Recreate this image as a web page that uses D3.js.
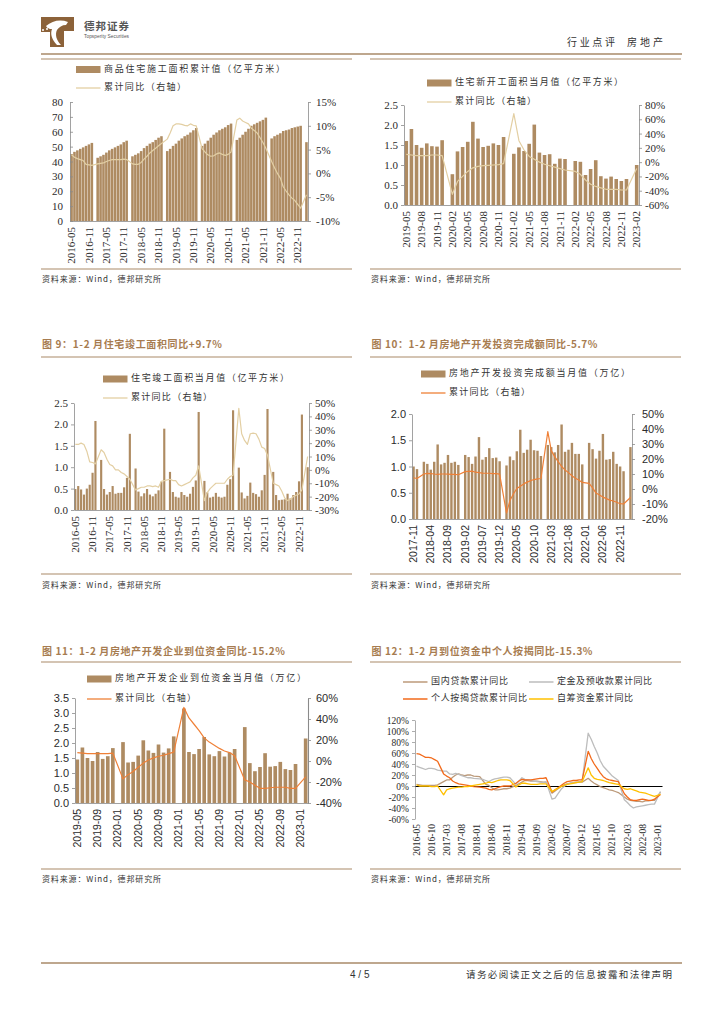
<!DOCTYPE html>
<html lang="zh"><head><meta charset="utf-8">
<script src="https://cdn.jsdelivr.net/npm/d3@7/dist/d3.min.js"></script>
<style>
html,body{margin:0;padding:0;background:#fff}
svg{display:block}
text{font-family:"Noto Sans CJK SC",sans-serif}
</style></head><body>
<svg id="page" width="724" height="1024"></svg>
<script>
// ---------- data ----------
const c1Start=[2016,5], c1Ticks=["2016-05","2016-11","2017-05","2017-11","2018-05","2018-11","2019-05","2019-11","2020-05","2020-11","2021-05","2021-11","2022-05","2022-11"];
const c1Bars=[45,46.5,47.5,48.5,49.5,50.5,51.5,52.5,
null,42.5,43.5,44.5,46,47.5,48.5,49.5,50.5,51.5,53,54,
null,43.5,44.5,45.5,47,49,50.5,52,53,54.5,56,57,
null,47,48.5,50.5,52,54,55.5,57,58,59.5,61,62.5,
null,50.5,52,54,56,58,59.5,61,62,63,64.5,65.5,
null,54.5,56,58,60,62,64,65,66,67,68,69.5,
null,55.5,57,58,59,60.5,61,61.5,62.5,63,63.5,64,
null,53];
const c1Line=[3.9,3.4,3.1,2.9,2.7,1.9,1.8,1.7,
null,2.0,2.1,2.2,2.5,2.7,2.9,2.9,2.9,2.9,3.0,2.9,
null,2.0,1.9,1.9,2.3,3.0,3.6,4.3,4.8,5.3,5.8,6.3,
null,7.2,8.5,10,10.4,10.4,10.3,10.1,10.0,10.4,10.1,10.0,
null,5.2,4.5,3.9,3.6,3.7,4.1,4.3,4.0,3.8,4.0,4.5,
null,11.2,11.6,11.0,10.7,10.4,9.5,9.0,8.5,7.5,6.5,5.3,
null,2.5,1.2,0,-1,-2.8,-3.7,-4.5,-5.2,-5.7,-6.5,-7.3,
null,-4.5];

const c2Start=[2019,5], c2Ticks=["2019-05","2019-08","2019-11","2020-02","2020-05","2020-08","2020-11","2021-02","2021-05","2021-08","2021-11","2022-02","2022-05","2022-08","2022-11","2023-02"];
const c2Bars=[1.6,1.9,1.5,1.43,1.54,1.47,1.46,1.62,
null,.77,1.34,1.45,1.58,2.08,1.66,1.45,1.48,1.54,1.5,1.7,
null,1.28,1.44,1.35,1.53,2.01,1.31,1.25,1.27,1.03,1.16,1.15,
null,1.1,1.08,.75,.9,1.12,.72,.66,.71,.65,.6,.65,
null,1.0];
const c2Line=[11,10,9,9,9,10,10,9,
null,-45,-27,-20,-13,-8,-6,-5,-4.5,-4,-3.5,-2,
null,68,30,17,8,4,0,-3,-5,-7,-9,-11,
null,-13,-17,-25,-31,-34,-36,-38,-38,-38,-39,-39,
null,-9];

const c3Start=[2016,5], c3Ticks=c1Ticks;
const c3Bars=[.49,.56,.48,.36,.5,.59,.87,2.08,
null,1.17,.49,.36,.42,.56,.38,.4,.4,.53,.75,1.78,
null,.97,.43,.32,.39,.49,.36,.32,.38,.46,.66,1.9,
null,.89,.42,.31,.29,.42,.35,.31,.38,.54,.69,2.29,
null,.68,.41,.29,.31,.4,.31,.29,.31,.59,.72,2.33,
null,.99,.41,.27,.33,.64,.4,.37,.31,.46,.82,2.36,
null,.89,.35,.23,.24,.25,.38,.27,.35,.42,.67,2.23,
null,1.0];
const c3Line=[19,19,20,19,14,6,5.5,4.5,
null,15,13,8,4,3,0,0,-2,-3,-5,-7,
null,-15,-14,-13,-13,-12,-12,-12.5,-12,-13,-8.5,-8,
null,-7,-8,-8,-11,-12,-11,-10,-9,-6,-4,3,
null,-23,-17,-14,-12,-10,-10,-10,-10,-7,-5,-4,
null,46,27,22,19,27,27.5,27,23,17,16,11,
null,-10,-11,-12,-16,-21,-23,-22,-20,-19,-18,-15,
null,10];

const c4Start=[2017,11], c4Ticks=["2017-11","2018-04","2018-09","2019-02","2019-07","2019-12","2020-05","2020-10","2021-03","2021-08","2022-01","2022-06","2022-11"];
const c4Bars=[1.0,.95,
null,1.09,1.05,.94,1.09,1.42,1.04,1.07,1.22,1.07,1.09,1.03,
null,1.22,1.18,1.05,1.19,1.56,1.13,1.18,1.35,1.16,1.17,1.1,
null,1.02,1.19,1.12,1.29,1.7,1.26,1.32,1.51,1.31,1.3,1.2,
null,1.41,1.37,1.27,1.41,1.8,1.28,1.32,1.45,1.24,1.24,1.04,
null,1.45,1.33,1.15,1.3,1.62,1.13,1.14,1.28,1.05,1.0,.91,
null,1.37];
const c4Line=[7.5,7,
null,10,10.4,10.3,10,9.8,10,10,9.9,9.7,9.7,9.5,
null,11.6,11.8,11.9,11.2,10.9,10.6,10.5,10.5,10.3,10.2,9.9,
null,-16,-7.7,-3.3,.3,1.9,3.4,4.6,5.6,6.3,6.8,7,
null,38.3,25.6,21.6,18.3,15,12.7,10.9,8.8,7.2,6,4.4,
null,3.7,.7,-2.7,-4,-5.4,-6.4,-7.4,-8,-8.8,-9.8,-10,
null,-5.7];

const c5Start=[2019,5], c5Ticks=["2019-05","2019-09","2020-01","2020-05","2020-09","2021-01","2021-05","2021-09","2022-01","2022-05","2022-09","2023-01"];
const c5Bars=[1.45,1.85,1.5,1.4,1.7,1.47,1.56,1.83,
null,2.03,1.35,1.37,1.58,2.09,1.75,1.67,1.95,1.68,1.82,2.22,
null,3.15,1.7,1.63,1.8,2.2,1.62,1.56,1.73,1.55,1.68,1.8,
null,2.53,1.33,1.06,1.2,1.66,1.21,1.23,1.37,1.13,1.1,1.3,
null,2.15];
const c5Line=[8,7.5,7,7,7,7,7,7.5,
null,-17,-13,-10,-6,-2,1,3,4.5,5.5,7,8.5,
null,51,41,35,29,22,18,15,12,9.5,8,5,
null,-18,-20,-23,-26,-26,-25.5,-25,-25,-25,-26,-26,
null,-15.2];

const c6Start=[2016,5], c6Ticks=["2016-05","2016-10","2017-03","2017-08","2018-01","2018-06","2018-11","2019-04","2019-09","2020-02","2020-07","2020-12","2021-05","2021-10","2022-03","2022-08","2023-01"];
const c6Domestic=[3,2,1,1,1,1,1,2,
null,8,11,11,16,20,22,20,19,20,20,18,
null,17,10,3,1,-3,-7,-7,-6,-5,-5,-4,
null,1,4,7,10,10,9,9,9,8,7,7,
null,-13,-9,-5,-1,2,4,5,6,6,7,7,
null,14,9,5,2,-1,-3,-5,-7,-8,-10,-12,
null,-20,-24,-26,-27,-28,-28,-29,-27,-27,-26,-26,
null,-11];
const c6Deposit=[36,34,32,30,32,32,31,29,
null,27,27,22,21,23,21,19,17,15,15,14,
null,13,12,10,8,11,13,14,15,16,16,15,
null,3,9,15,12,11,10,9,8,7,6,8,
null,-24,-22,-14,-6,-1,3,5,6,7,8,9,
null,96,85,72,60,46,36,30,24,18,14,10,
null,-25,-30,-36,-40,-38,-37,-36,-35,-34,-33,-33,
null,-10];
const c6Mortgage=[59,58,55,52,52,51,48,45,
null,22,18,15,9,6,4,3,2,1,0,-1,
null,-2,-3,-4,-6,-7,-5,-3,-1,0,0,0,
null,5,9,12,11,11,11,12,13,14,14,15,
null,-11,-7,-3,1,5,8,9,10,10,11,11,
null,63,50,40,32,24,17,13,11,10,9,8,
null,-14,-20,-25,-26,-26,-25,-24,-25,-26,-26,-24,
null,-15.3];
const c6SelfRaised=[2,0,0,0,0,-1,-1,0,
null,-16,-7,-5,-4,-3,-2,-2,-1,-1,0,1,
null,3,4,5,7,6,8,10,11,11,11,10,
null,-2,2,5,5,4,3,3,3,4,4,4,
null,-10,-7,-4,-1,1,3,4,5,6,7,8,
null,33,20,14,12,11,10,8,6,5,4,3,
null,-5,-6,-5,-7,-9,-11,-12,-13,-15,-17,-19,
null,-15];

// ---------- helpers ----------
const BAR="#AE8B62", RULE="#A98A69", TXT="#2b2b2b", TITLE="#A77C50";
const SERIF='"Liberation Serif",serif', SANS='"Liberation Sans",sans-serif', CJK='"Noto Sans CJK SC",sans-serif';
const svg=d3.select("#page");
const pad=n=>String(n).padStart(2,"0");
function months(start,values){
  const out=[];let y=start[0],m=start[1];
  values.forEach(()=>{out.push(y+"-"+pad(m));m++;if(m>12){m=1;y++;}});
  return out;
}
function rule(x1,x2,y,w){svg.append("line").attr("x1",x1).attr("x2",x2).attr("y1",y).attr("y2",y).attr("stroke",RULE).attr("stroke-width",w);}
function label(x,y,s,size,opts={}){
  const t=svg.append("text").attr("x",x).attr("y",y).attr("dominant-baseline","middle").attr("font-size",size)
    .attr("fill",opts.fill||TXT).attr("font-weight",opts.weight||400).style("font-family",opts.font||CJK).text(s);
  if(opts.len){t.attr("textLength",opts.len).attr("lengthAdjust","spacing");}
  return t;
}
function legendBar(x,y,s,len){
  svg.append("rect").attr("x",x).attr("y",y-3.5).attr("width",24.5).attr("height",7).attr("fill",BAR);
  label(x+28,y,s,9,{len,fill:"#333"});
}
function legendLine(x,y,s,len,color,w=1.3){
  svg.append("line").attr("x1",x).attr("x2",x+24.5).attr("y1",y).attr("y2",y).attr("stroke",color).attr("stroke-width",w);
  label(x+28,y,s,9,{len,fill:"#333"});
}
function xLabels(g,font,size){
  g.selectAll("text").attr("transform","rotate(-90)").attr("text-anchor","end")
   .attr("x",-6).attr("y",0).attr("dy",".33em").attr("font-size",size).attr("fill",TXT).style("font-family",font);
}
function barLine(o){
  const cats=months(o.start,o.bars);
  const x=d3.scaleBand().domain(cats).range([o.l,o.r]).paddingInner(o.padding||.22).paddingOuter(.1);
  const y=d3.scaleLinear().domain(o.yDom).range([o.b,o.t]);
  const y2=d3.scaleLinear().domain(o.y2Dom).range([o.b,o.t]);
  const g=svg.append("g");
  g.selectAll("rect").data(cats.map((c,i)=>({c,v:o.bars[i]})).filter(d=>d.v!=null)).join("rect")
    .attr("x",d=>x(d.c)).attr("width",x.bandwidth()).attr("y",d=>y(d.v)).attr("height",d=>o.b-y(d.v)).attr("fill",BAR);
  const ln=d3.line().x(d=>x(d.c)+x.bandwidth()/2).y(d=>y2(d.v));
  g.append("path").attr("d",ln(cats.map((c,i)=>({c,v:o.line[i]})).filter(d=>d.v!=null)))
    .attr("fill","none").attr("stroke",o.lineColor).attr("stroke-width",o.lineW||1.2).attr("stroke-linejoin","round");
  const ax=svg.append("g").attr("transform",`translate(${o.l},0)`)
    .call(d3.axisLeft(y).tickValues(o.yTicks).tickFormat(o.yFmt).tickSize(o.inner?-3:3).tickSizeOuter(0));
  ax.selectAll("text").attr("x",o.inner?-7:-6).attr("font-size",o.size).attr("fill",TXT).style("font-family",o.font);
  const ax2=svg.append("g").attr("transform",`translate(${o.r},0)`)
    .call(d3.axisRight(y2).tickValues(o.y2Ticks).tickFormat(d=>d+"%").tickSize(3).tickSizeOuter(0));
  ax2.selectAll("text").attr("x",o.rx||6).attr("font-size",o.size).attr("fill",TXT).style("font-family",o.font);
  const bx=svg.append("g").attr("transform",`translate(0,${o.b})`)
    .call(d3.axisBottom(x).tickValues(o.ticks).tickSize(0).tickSizeOuter(0));
  xLabels(bx,o.font,o.xSize);
  svg.selectAll("g .domain,g .tick line").attr("stroke","#8a8a8a").attr("stroke-width",o.axisW||.8);
  ax2.selectAll(".domain").attr("stroke-width",1.1);
}
const f1=d3.format(".1f"), f0=d3.format("d");

// ---------- page chrome ----------
svg.append("rect").attr("x",41).attr("y",17).attr("width",33).attr("height",30).attr("fill","#8C6239");
svg.append("path").attr("d","M41 32H50V47H41Z M64 47V31H74V47Z").attr("fill","#fff");
svg.append("path").attr("d","M46 26 C52 21 60 19 68 22 L66 25 C62 25 59 27 57 30 C55 34 56 40 61 45 L57 45 C52 40 50 34 52 29 C49 29 48 29 46 26Z").attr("fill","#fff");
[[43,30],[47,29],[46,33]].forEach(p=>svg.append("circle").attr("cx",p[0]).attr("cy",p[1]).attr("r",1).attr("fill","#fff"));
label(84,27,"德邦证券",10.5,{weight:700,fill:"#555",len:45});
label(84,37,"Topsperity Securities",4.8,{fill:"#555",font:SANS,len:45});
label(567,43,"行业点评",10,{fill:"#333",len:48});
label(627,43,"房地产",10,{fill:"#333",len:36});
rule(41,682,54,1.6);
rule(41,682,963,1.6);
label(350,975,"4 / 5",10,{font:SANS,fill:"#333"});
label(466,975,"请务必阅读正文之后的信息披露和法律声明",9.5,{fill:"#333",len:206});

rule(41,352,59,1.2); rule(370,681,59,1.2);
rule(41,352,269,1.2); rule(370,681,269,1.2);
rule(41,352,357,1.2); rule(370,681,357,1.2);
rule(41,352,574,1.2); rule(370,681,574,1.2);
rule(41,352,662,1.2); rule(370,681,662,1.2);
rule(41,352,869,1.2); rule(370,681,869,1.2);
const SRC="资料来源：Wind，德邦研究所";
[[42,280],[371,280],[42,586],[371,586],[42,880],[371,880]].forEach(p=>label(p[0],p[1],SRC,8,{fill:"#333",len:119}));

label(42,345,"图 9：1-2 月住宅竣工面积同比+9.7%",10,{weight:700,fill:TITLE,len:180});
label(371.5,345,"图 10：1-2 月房地产开发投资完成额同比-5.7%",10,{weight:700,fill:TITLE,len:226});
label(42,652,"图 11：1-2 月房地产开发企业到位资金同比-15.2%",10,{weight:700,fill:TITLE,len:243});
label(371.5,652,"图 12：1-2 月到位资金中个人按揭同比-15.3%",10,{weight:700,fill:TITLE,len:221});

// ---------- chart 1 ----------
const PALE="#E3CFA3", ORANGE="#EF8037";
barLine({start:c1Start,bars:c1Bars,line:c1Line,ticks:c1Ticks,l:70,r:308,t:102,b:221,yDom:[0,80],yTicks:d3.range(0,81,10),yFmt:f0,
  y2Dom:[-10,15],y2Ticks:[-10,-5,0,5,10,15],lineColor:PALE,font:SERIF,size:11,xSize:11,inner:true,rx:8,padding:.12});
legendBar(76,69.5,"商品住宅施工面积累计值（亿平方米）",181);
legendLine(76,88,"累计同比（右轴）",82,PALE);

// ---------- chart 2 ----------
barLine({start:c2Start,bars:c2Bars,line:c2Line,ticks:c2Ticks,l:404,r:639,t:105,b:205,yDom:[0,2.5],yTicks:[0,.5,1,1.5,2,2.5],yFmt:f1,
  y2Dom:[-60,80],y2Ticks:[-60,-40,-20,0,20,40,60,80],lineColor:PALE,font:SERIF,size:11,xSize:11,padding:.3});
legendBar(427,83,"住宅新开工面积当月值（亿平方米）",168);
legendLine(427,102,"累计同比（右轴）",81,PALE);

// ---------- chart 3 ----------
barLine({start:c3Start,bars:c3Bars,line:c3Line,ticks:c3Ticks,l:74,r:309,t:403,b:510,yDom:[0,2.5],yTicks:[0,.5,1,1.5,2,2.5],yFmt:f1,
  y2Dom:[-30,50],y2Ticks:[-30,-20,-10,0,10,20,30,40,50],lineColor:PALE,font:SERIF,size:11,xSize:11,padding:.25});
legendBar(103,379,"住宅竣工面积当月值（亿平方米）",158);
legendLine(103,398,"累计同比（右轴）",81,PALE);

// ---------- chart 4 ----------
barLine({start:c4Start,bars:c4Bars,line:c4Line,ticks:c4Ticks,l:412,r:632,t:414,b:519,yDom:[0,2],yTicks:[0,.5,1,1.5,2],yFmt:f1,
  y2Dom:[-20,50],y2Ticks:[-20,-10,0,10,20,30,40,50],lineColor:ORANGE,font:SANS,size:11,xSize:10.5,padding:.3,rx:10});
legendBar(421,374,"房地产开发投资完成额当月值（万亿）",181);
legendLine(421,393,"累计同比（右轴）",81,ORANGE);

// ---------- chart 5 ----------
barLine({start:c5Start,bars:c5Bars,line:c5Line,ticks:c5Ticks,l:75,r:308,t:698,b:803,yDom:[0,3.5],yTicks:[0,.5,1,1.5,2,2.5,3,3.5],yFmt:f1,
  y2Dom:[-40,60],y2Ticks:[-40,-20,0,20,40,60],lineColor:ORANGE,font:SANS,size:11,xSize:10.5,padding:.28,rx:8});
legendBar(87,679,"房地产开发企业到位资金当月值（万亿）",191);
legendLine(87,699,"累计同比（右轴）",81,ORANGE);

// ---------- chart 6 ----------
(function(){
  const cats=months(c6Start,c6Domestic);
  const l=415,r=662,t=720,b=819;
  const x=d3.scaleBand().domain(cats).range([l,r]);
  const y=d3.scaleLinear().domain([-60,120]).range([b,t]);
  const ax=svg.append("g").attr("transform",`translate(${l},0)`)
    .call(d3.axisLeft(y).tickValues(d3.range(-60,121,20)).tickFormat(d=>d+"%").tickSize(3).tickSizeOuter(0));
  ax.selectAll("text").attr("font-size",9.5).attr("fill",TXT).style("font-family",SERIF);
  ax.selectAll(".domain,.tick line").attr("stroke","#8a8a8a").attr("stroke-width",.7);
  const bx=svg.append("g").attr("transform",`translate(0,${b})`)
    .call(d3.axisBottom(x).tickValues(c6Ticks).tickSize(0).tickSizeOuter(0));
  bx.select(".domain").remove();
  xLabels(bx,SERIF,9.5);
  bx.selectAll("text").attr("x",-5);
  svg.append("g").attr("transform",`translate(0,${y(0)})`)
    .call(d3.axisBottom(x).tickValues([]).tickSize(0).tickSizeOuter(0))
    .select(".domain").attr("stroke","#000").attr("stroke-width",1);
  const ln=d3.line().x(d=>x(d.c)+x.bandwidth()/2).y(d=>y(d.v));
  const series=[[c6Domestic,"#BC9A7A"],[c6Deposit,"#BDBDBD"],[c6Mortgage,"#F26A1B"],[c6SelfRaised,"#FFC000"]];
  series.forEach(s=>svg.append("path").attr("d",ln(cats.map((c,i)=>({c,v:s[0][i]})).filter(d=>d.v!=null)))
    .attr("fill","none").attr("stroke",s[1]).attr("stroke-width",1.3).attr("stroke-linejoin","round"));
  legendLine(403,682,"国内贷款累计同比",77,"#BC9A7A",1.5);
  legendLine(529,682,"定金及预收款累计同比",95,"#BDBDBD",1.5);
  legendLine(403,699,"个人按揭贷款累计同比",96,"#F26A1B",1.5);
  legendLine(529,699,"自筹资金累计同比",76,"#FFC000",1.5);
})();
</script></body></html>
